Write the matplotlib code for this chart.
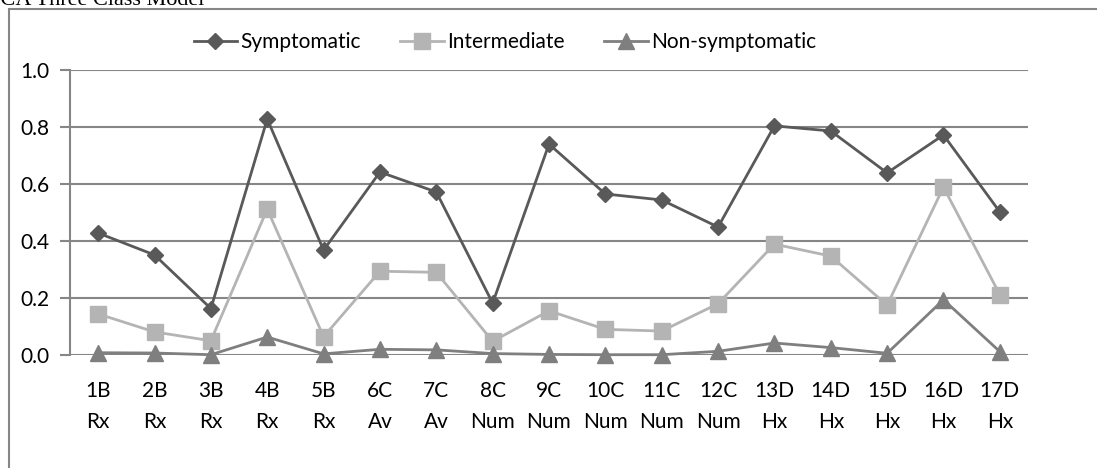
import matplotlib
matplotlib.use('Agg')
import matplotlib.pyplot as plt
from matplotlib.patches import Rectangle

categories = ['1B\nRx', '2B\nRx', '3B\nRx', '4B\nRx', '5B\nRx', '6C\nAv', '7C\nAv',
              '8C\nNum', '9C\nNum', '10C\nNum', '11C\nNum', '12C\nNum',
              '13D\nHx', '14D\nHx', '15D\nHx', '16D\nHx', '17D\nHx']
symptomatic = [0.428, 0.351, 0.163, 0.828, 0.368, 0.642, 0.572, 0.182, 0.740,
               0.565, 0.544, 0.449, 0.804, 0.786, 0.639, 0.772, 0.502]
intermediate = [0.144, 0.081, 0.050, 0.512, 0.064, 0.294, 0.290, 0.048, 0.155,
                0.090, 0.084, 0.180, 0.389, 0.347, 0.175, 0.589, 0.212]
non_symptomatic = [0.008, 0.007, 0.001, 0.063, 0.004, 0.020, 0.018, 0.005, 0.002,
                   0.001, 0.001, 0.013, 0.042, 0.026, 0.006, 0.194, 0.012]
yticks = [0.0, 0.2, 0.4, 0.6, 0.8, 1.0]

plt.rcParams['font.family'] = ['Lato', 'DejaVu Sans']

W, H = 1097, 468
fig = plt.figure(figsize=(W / 100, H / 100), dpi=100)
ax = fig.add_axes([70 / W, 1 - 355 / H, (1028 - 70) / W, (355 - 70) / H])

grid_c = '#868686'
x = list(range(len(categories)))
ax.plot(x, symptomatic, '-D', color='#595959', lw=2, ms=8, label='Symptomatic',
        clip_on=False)
ax.plot(x, intermediate, '-s', color='#b4b4b4', lw=2, ms=11, label='Intermediate',
        clip_on=False)
ax.plot(x, non_symptomatic, '-^', color='#7f7f7f', lw=2, ms=12, label='Non-symptomatic',
        clip_on=False)

ax.set_xlim(-0.5, len(categories) - 0.5)
ax.set_ylim(0, 1.0)
ax.set_yticks(yticks)
ax.set_yticklabels([f'{v:.1f}' for v in yticks], fontsize=15)
ax.set_xticks(x)
ax.set_xticklabels(categories, fontsize=15, linespacing=1.65)
ax.yaxis.grid(True, color=grid_c, lw=1.5)
ax.set_axisbelow(True)
for s in ['top', 'right', 'bottom']:
    ax.spines[s].set_visible(False)
ax.spines['left'].set_color(grid_c)
ax.spines['left'].set_linewidth(1.5)
ax.tick_params(axis='y', length=7, color=grid_c, width=1.5, pad=8)
ax.tick_params(axis='x', length=0, pad=19)

fig.legend(loc='center', bbox_to_anchor=(505 / W, 1 - 42 / H), ncol=3, frameon=False,
           fontsize=15, handlelength=2.1, columnspacing=1.9, handletextpad=0.15)

# chart frame (left and top edges visible)
fig.patches.append(Rectangle((8.5 / W, -0.1), 1.2, 1 - 9 / H + 0.1, transform=fig.transFigure,
                             fill=False, edgecolor=grid_c, lw=1.5))
fig.text(-13 / W, 1 - 5 / H, 'LCA Three Class Model', family='Liberation Serif',
         fontsize=16, va='baseline', ha='left')

plt.savefig('out.png', dpi=100)
